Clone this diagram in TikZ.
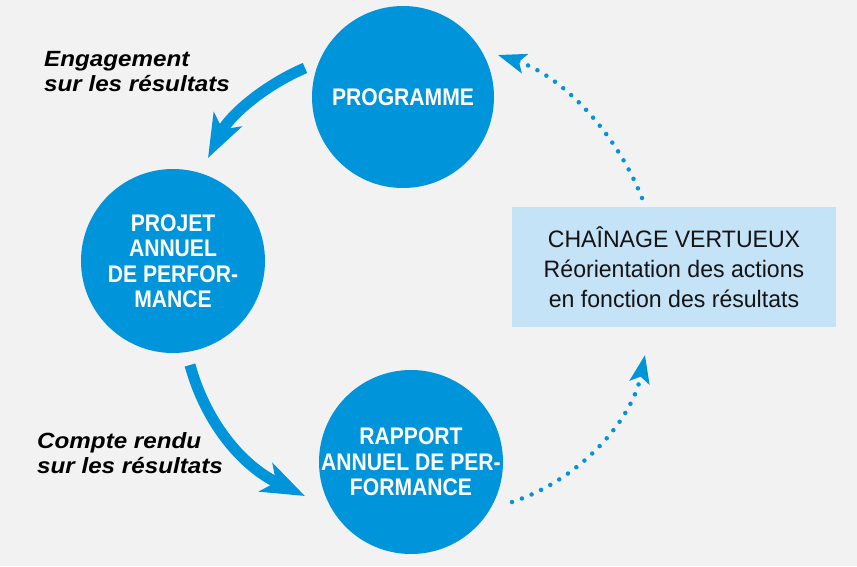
\documentclass[tikz,border=0pt]{standalone}
\usepackage{fontspec}
\setmainfont{Liberation Sans}
\newfontfamily\circfont{Liberation Sans}[FakeStretch=0.88]
\newfontfamily\labfont{Liberation Sans}[FakeStretch=1.1]
\newfontfamily\boxfont{Liberation Sans}[FakeStretch=0.97]
\usetikzlibrary{arrows.meta}
\definecolor{bgc}{RGB}{242,242,242}
\definecolor{blu}{RGB}{0,148,218}
\definecolor{boxc}{RGB}{197,227,247}
\definecolor{txt}{RGB}{20,20,20}
\tikzset{
  circ/.style={circle,fill=blu,draw=none,inner sep=0pt,minimum size=#1},
  ctext/.style={text=white,align=center,inner sep=0pt,font=\circfont\bfseries\fontsize{24pt}{25.5pt}\selectfont},
  lab/.style={text=black,align=left,inner sep=0pt,font=\labfont\bfseries\itshape\fontsize{22pt}{25pt}\selectfont},
  infobox/.style={fill=boxc,draw=none,minimum width=324pt,minimum height=120pt,inner sep=0pt,align=center,text=txt,font=\boxfont\fontsize{23.8pt}{30pt}\selectfont},
  bigarrow/.style={draw=blu,line width=11pt,-{Stealth[length=43pt,width=31pt,inset=11pt]}},
  dotarrow/.style={draw=blu,line width=4.5pt,line cap=round,dash pattern=on 0pt off 10.5pt,-{Stealth[length=28pt,width=20pt,inset=6pt,fill=blu]}}
}
\begin{document}
\begin{tikzpicture}[x=1pt,y=-1pt]
\fill[bgc] (0,0) rectangle (857,566);
\useasboundingbox (0,0) rectangle (857,566);

\node[circ=182pt] (prog) at (403,97) {};
\node[circ=184pt] (pap) at (173,261) {};
\node[circ=184pt] (rap) at (411,462) {};
\node[infobox] (chain) at (674,267) {CHAÎNAGE VERTUEUX\\Réorientation des actions\\en fonction des résultats};

\node[ctext] (progt) at (prog.center) {PROGRAMME};
\node[ctext] (papt) at (pap.center) {PROJET\\ANNUEL\\DE PERFOR-\\MANCE};
\node[ctext] (rapt) at (rap.center) {RAPPORT\\ANNUEL DE PER-\\FORMANCE};

\node[lab,anchor=west] (eng) at (44,72) {Engagement\\sur les résultats};
\node[lab,anchor=west] (cr) at (37,453) {Compte rendu\\sur les résultats};

\coordinate (a1s) at (305,68);
\coordinate (a1e) at (208,158);
\coordinate (a2s) at (190,365);
\coordinate (a2e) at (305,496);
\coordinate (d1s) at (642,198);
\coordinate (d1e) at (498,55);
\coordinate (d2s) at (512,502);
\coordinate (d2e) at (645,355);

\draw[bigarrow] (a1s) .. controls (265,85) and (230,115) .. (a1e);
\draw[bigarrow] (a2s) .. controls (205,420) and (240,465) .. (a2e);
\draw[dotarrow] (d1s) .. controls (615,130) and (560,75) .. (d1e);
\draw[dotarrow] (d2s) .. controls (580,480) and (632,420) .. (d2e);
\end{tikzpicture}
\end{document}
